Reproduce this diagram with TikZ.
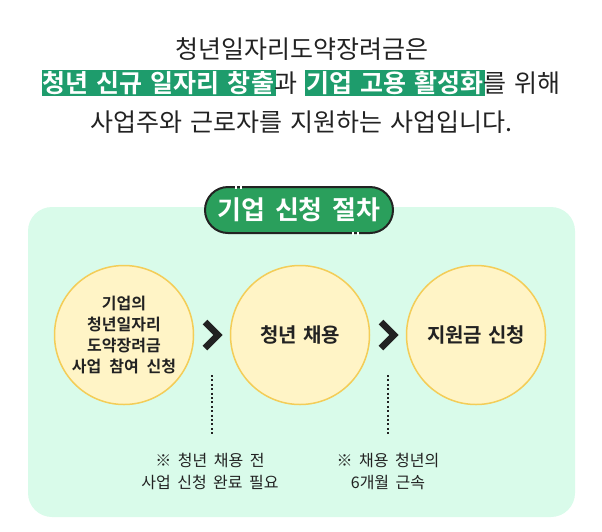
\documentclass[tikz,border=0pt]{standalone}
\usepackage{fontspec}
\setmainfont{Noto Sans CJK KR}[BoldFont={* Bold}]
\usetikzlibrary{calc}

\definecolor{inkgray}{HTML}{222222}
\definecolor{hlgreen}{HTML}{1E9C6C}
\definecolor{pillgreen}{HTML}{2A9F5C}
\definecolor{mint}{HTML}{D9FBEA}
\definecolor{cream}{HTML}{FFF4C6}
\definecolor{gold}{HTML}{F3CD58}

\setlength{\fboxsep}{1.5pt}
\newcommand{\hlword}[1]{\colorbox{hlgreen}{\textcolor{white}{\bfseries #1}}}
\newcommand{\setsize}[3]{\fontsize{#1}{#2}\selectfont\spaceskip=#3pt\relax}

\begin{document}
\begin{tikzpicture}[
x=1pt, y=-1pt,
every node/.style={
inner sep=0pt,
text=inkgray,
align=center
},
headline/.style={font=\setsize{25}{30}{8}},
stage/.style={
circle,
draw=gold,
line width=1.5pt,
fill=cream,
minimum size=139pt,
font=\bfseries\setsize{20}{24}{6}
},
chev/.style={draw=inkgray, line width=6.5pt, miter limit=10},
dotline/.style={draw=inkgray, line width=2pt, dash pattern=on 2pt off 2.4pt},
note/.style={font=\setsize{16}{22}{6.5}}
]

\useasboundingbox (0,0) rectangle (602,531);

% heading
\node[headline] (t1)
at (302,49)
{청년일자리도약장려금은};

\node[headline] (t2)
at (301,83)
{\hlword{청년 신규 일자리 창출}\kern-1.5pt 과 \hlword{기업 고용 활성화}\kern-1.5pt 를 위해};

\node[headline] (t3)
at (301,122)
{사업주와 근로자를 지원하는 사업입니다.};

% panel
\fill[mint] (28,207) [rounded corners=24pt] rectangle (575,517);

\node[
draw=inkgray,
line width=2pt,
fill=pillgreen,
rounded corners=23pt,
minimum width=188pt,
minimum height=46pt,
text=white,
font=\bfseries\setsize{26}{30}{10}
] (pill)
at (299,210)
{기업 신청 절차};

\fill[white] (235,185.5) rectangle (237,188.5);
\fill[white] (240,185.5) rectangle (242,188.5);
\fill[white] (352,231.5) rectangle (354,234.5);
\fill[white] (357,231.5) rectangle (359,234.5);

% stages
\node[stage, font=\bfseries\setsize{16}{21}{8}] (c1)
at (124,335)
{기업의\\청년일자리\\도약장려금\\사업 참여 신청};

\node[stage] (c2)
at (300,335)
{청년 채용};

\node[stage] (c3)
at (476,335)
{지원금 신청};

\coordinate (m1) at ($(c1)!0.5!(c2)$);
\coordinate (m2) at ($(c2)!0.5!(c3)$);

\draw[chev] ($(m1)+(-7,-13)$) -- ($(m1)+(6,0)$) -- ($(m1)+(-7,13)$);
\draw[chev] ($(m2)+(-7,-13)$) -- ($(m2)+(6,0)$) -- ($(m2)+(-7,13)$);

% notes
\node[note] (n1)
at (210,471)
{※ 청년 채용 전\\사업 신청 완료 필요};

\node[note] (n2)
at (388,471)
{※ 채용 청년의\\6개월 근속};

\coordinate (d1) at ($(m1)+(0,40)$);
\coordinate (d2) at ($(m2)+(0,40)$);

\draw[dotline, shorten >=16pt] (d1) -- (d1 |- n1.north);
\draw[dotline, shorten >=16pt] (d2) -- (d2 |- n2.north);

\end{tikzpicture}
\end{document}
